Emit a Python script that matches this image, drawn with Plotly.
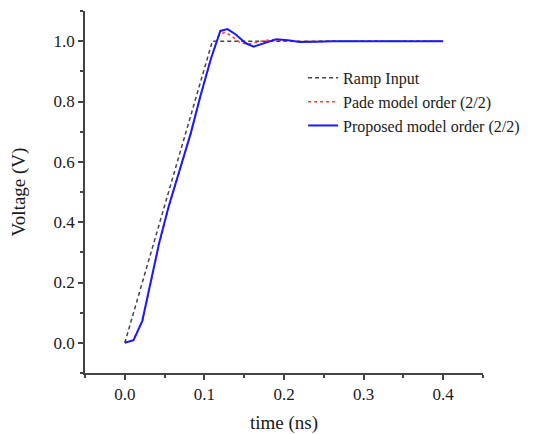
import plotly.graph_objects as go

# Ramp input
ramp_t = [0.0, 0.11, 0.4]
ramp_v = [0.0, 1.0, 1.0]

# Pade model order (2/2)
pade_t = [0.0, 0.01, 0.022, 0.032, 0.043, 0.055, 0.068, 0.083, 0.095, 0.108, 0.118, 0.126, 0.135, 0.145, 0.155, 0.165, 0.178, 0.19, 0.21, 0.23, 0.26, 0.3, 0.35, 0.4]
pade_v = [0.0, 0.008, 0.07, 0.19, 0.325, 0.448, 0.56, 0.694, 0.816, 0.94, 1.02, 1.03, 1.015, 0.995, 0.99, 0.995, 1.003, 1.004, 0.999, 0.999, 1.0, 1.0, 1.0, 1.0]

# Proposed model order (2/2)
prop_t = [0.0, 0.011, 0.022, 0.032, 0.043, 0.055, 0.068, 0.083, 0.095, 0.108, 0.12, 0.129, 0.139, 0.152, 0.162, 0.177, 0.19, 0.205, 0.22, 0.24, 0.26, 0.3, 0.35, 0.4]
prop_v = [0.0, 0.009, 0.073, 0.196, 0.329, 0.451, 0.562, 0.696, 0.818, 0.94, 1.034, 1.04, 1.023, 0.993, 0.982, 0.996, 1.006, 1.003, 0.997, 0.998, 1.0, 1.0, 1.0, 1.0]

x_ticks = [0.0, 0.1, 0.2, 0.3, 0.4]
y_ticks = [0.0, 0.2, 0.4, 0.6, 0.8, 1.0]

FONT = "Liberation Serif"
TXT = "#1a1a1a"
AX = "#444444"

fig = go.Figure()
fig.add_trace(go.Scatter(x=ramp_t, y=ramp_v, mode="lines", name="Ramp Input",
                         line=dict(color="#444444", width=1.5, dash="4px,3px")))
fig.add_trace(go.Scatter(x=pade_t, y=pade_v, mode="lines", name="Pade model order (2/2)",
                         line=dict(color="#ff4040", width=1.5, dash="dot")))
fig.add_trace(go.Scatter(x=prop_t, y=prop_v, mode="lines", name="Proposed model order (2/2)",
                         line=dict(color="#1a1aff", width=2)))

axis_common = dict(
    showline=True, linecolor=AX, linewidth=1.8,
    ticks="outside", ticklen=5, tickwidth=1.8, tickcolor=AX,
    showgrid=False, zeroline=False, automargin=False,
    tickfont=dict(family=FONT, size=17, color=TXT),
    minor=dict(ticks="outside", ticklen=3, tickwidth=1.5, tickcolor=AX, showgrid=False),
)

fig.update_xaxes(range=[-0.05, 0.45], tickvals=x_ticks, ticktext=[f"{v:.1f}" for v in x_ticks],
                 minor_tickvals=[-0.05, 0.05, 0.15, 0.25, 0.35, 0.45],
                 **axis_common)
fig.update_yaxes(range=[-0.1, 1.1], tickvals=y_ticks, ticktext=[f"{v:.1f}" for v in y_ticks],
                 minor_tickvals=[-0.1, 0.1, 0.3, 0.5, 0.7, 0.9, 1.1],
                 title=dict(text="Voltage (V)", font=dict(family=FONT, size=19, color=TXT), standoff=24),
                 **axis_common)

# x-axis title placed low near the bottom edge, as in the original
fig.add_annotation(text="time (ns)", xref="paper", yref="paper", x=0.5, y=-0.138,
                   xanchor="center", yanchor="middle", showarrow=False,
                   font=dict(family=FONT, size=19, color=TXT))

fig.update_layout(
    width=542, height=426,
    margin=dict(l=77, r=67, t=3, b=61),
    plot_bgcolor="white", paper_bgcolor="white",
    showlegend=True,
    legend=dict(x=0.548, y=0.862, xanchor="left", yanchor="top",
                bgcolor="rgba(0,0,0,0)",
                font=dict(family=FONT, size=16, color=TXT),
                tracegroupgap=0),
)

fig.write_html("out.html")
